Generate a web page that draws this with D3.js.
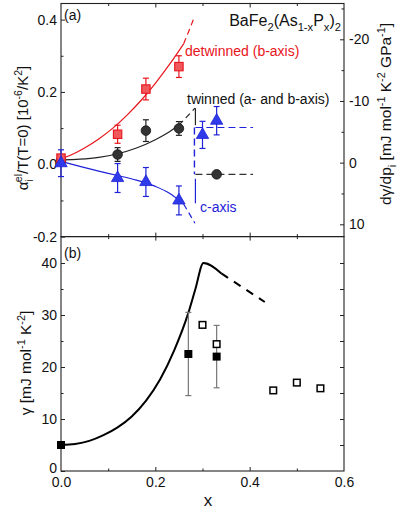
<!DOCTYPE html>
<html><head><meta charset="utf-8">
<script src="https://cdn.jsdelivr.net/npm/d3@7"></script>
<style>
html,body{margin:0;padding:0;background:#fff;}
svg text{font-family:"Liberation Sans",Arial,Helvetica,sans-serif;}
</style>
</head><body>
<svg id="chart" width="409" height="512"></svg>
<script>
// ---------- DATA ----------
// panel (a): alpha_i^el/T  (left axis)
const detX = [0, 0.12, 0.18, 0.25];
const detY = [0.017, 0.083, 0.208, 0.27];
const detErr = [0.006, 0.025, 0.03, 0.03];
const twX = [0, 0.12, 0.18, 0.25];
const twY = [0.01, 0.027, 0.093, 0.099];
const twErr = [0.0, 0.019, 0.03, 0.019];
const cX = [0, 0.12, 0.18, 0.25];
const cY = [0.003, -0.038, -0.049, -0.1];
const cErr = [0.037, 0.04, 0.04, 0.04];
// guide curves (a)
const detCurveX = [0, 0.02, 0.05, 0.08, 0.11, 0.14, 0.17, 0.2, 0.23, 0.26];
const detCurveY = [0.015, 0.025, 0.045, 0.07, 0.1, 0.136, 0.177, 0.224, 0.276, 0.333];
const detDashX = [0.26, 0.271, 0.282];
const detDashY = [0.333, 0.368, 0.405];
const twCurveX = [0, 0.04, 0.08, 0.12, 0.16, 0.2, 0.23, 0.25];
const twCurveY = [0.012, 0.014, 0.019, 0.029, 0.045, 0.068, 0.09, 0.108];
const twDashX = [0.25, 0.284];
const twDashY = [0.108, 0.155];
const cCurveX = [0, 0.04, 0.08, 0.12, 0.16, 0.2, 0.23, 0.26];
const cCurveY = [0.008, -0.006, -0.019, -0.031, -0.044, -0.061, -0.08, -0.11];
const cDashX = [0.26, 0.284];
const cDashY = [-0.11, -0.163];
// phase boundary marks (a)
const boundX = 0.285;
const boundBlackY = [0.155, 0.108];     // left axis units
const boundBlueSolidY = [-0.04, -0.108]; // left axis units
// panel (a) right axis: dgamma/dp_i
const cRX = [0.30, 0.33];
const cRY = [-4.5, -6.8];
const cRErr = [2.2, 2.3];
const twRX = [0.33];
const twRY = [1.9];
const levelX = [0.285, 0.407];
const cLevel = -5.7;
const twLevel = 1.9;
// panel (b): gamma
const gFillX = [0, 0.27, 0.33];
const gFillY = [5, 22.5, 22.0];
const gErrLo = [null, 14.5, 16.0];
const gErrHi = [null, 30.5, 28.0];
const gOpenX = [0.30, 0.33, 0.45, 0.50, 0.55];
const gOpenY = [28.1, 24.4, 15.5, 17.0, 15.9];
const gCurveX = [0, 0.03, 0.06, 0.09, 0.12, 0.15, 0.18, 0.21, 0.24, 0.27, 0.285, 0.302, 0.34];
const gCurveY = [5, 5.2, 5.8, 6.9, 8.4, 10.5, 13.5, 17.6, 23.2, 30.4, 35, 40, 38];
const gDashX = [0.34, 0.432];
const gDashY = [38, 32.5];
// ticks
const xMajor = [0, 0.2, 0.4, 0.6];
const xMinor = [0.1, 0.3, 0.5];
const aMajor = [-0.2, 0.0, 0.2, 0.4];
const aMinor = [-0.1, 0.1, 0.3];
const rMajor = [-20, -10, 0, 10];
const rMinor = [-25, -15, -5, 5];
const bMajor = [0, 10, 20, 30, 40];
const bMinor = [5, 15, 25, 35];
const bRight = [5, 10, 15, 20, 25, 30, 35, 40];

// ---------- LAYOUT ----------
const RED = "#e8141c", RED_FILL = "#f0585c";
const BLUE = "#1f22d8", BLUE_FILL = "#2f3bea";
const DARK = "#222";
const FONT = "Liberation Sans, Arial, Helvetica, sans-serif";
const L = 61, R = 344, TOP = 3.5, MID = 236.6, BOT = 471;

const svg = d3.select("#chart");
const x = d3.scaleLinear().domain([0, 0.6]).range([L, R]);
const yA = d3.scaleLinear().domain([-0.2, 0.4]).range([MID, 19.6]);
const yR = d3.scaleLinear().domain([10, -20]).range([224.3, 39.3]);
const yB = d3.scaleLinear().domain([0, 40]).range([BOT, 263]);

const fmt1 = v => d3.format(".1f")(v).replace("−", "-");

function axisG(){ return svg.append("g"); }
function styleAxis(g){
  g.attr("font-size", 14).attr("font-family", FONT);
  g.select(".domain").remove();
  g.selectAll("line").attr("stroke", DARK).attr("stroke-width", 1);
  g.selectAll("text").attr("fill", "#111");
}

// panel a left
axisG().attr("transform", `translate(${L},0)`).call(d3.axisLeft(yA).tickValues(aMajor).tickSizeInner(-4).tickSizeOuter(0).tickPadding(4).tickFormat(fmt1)).call(styleAxis);
axisG().attr("transform", `translate(${L},0)`).call(d3.axisLeft(yA).tickValues(aMinor).tickSizeInner(-2.5).tickSizeOuter(0).tickFormat("")).call(styleAxis);
// panel a right
axisG().attr("transform", `translate(${R},0)`).call(d3.axisRight(yR).tickValues(rMajor).tickSizeInner(-4).tickSizeOuter(0).tickPadding(5).tickFormat(d => String(d))).call(styleAxis);
axisG().attr("transform", `translate(${R},0)`).call(d3.axisRight(yR).tickValues(rMinor).tickSizeInner(-2.5).tickSizeOuter(0).tickFormat("")).call(styleAxis);
// x ticks (inward) on every horizontal frame edge
[[TOP, d3.axisTop],[MID, d3.axisBottom],[MID, d3.axisTop],[BOT, d3.axisBottom]].forEach(([yy, ax]) => {
  axisG().attr("transform", `translate(0,${yy})`).call(ax(x).tickValues(xMajor.slice(1,3)).tickSizeInner(-4).tickSizeOuter(0).tickFormat("")).call(styleAxis);
  axisG().attr("transform", `translate(0,${yy})`).call(ax(x).tickValues(xMinor).tickSizeInner(-2.5).tickSizeOuter(0).tickFormat("")).call(styleAxis);
});
// bottom x labels
axisG().attr("transform", `translate(0,${BOT})`).call(d3.axisBottom(x).tickValues(xMajor).tickSize(0).tickPadding(6).tickFormat(fmt1)).call(styleAxis);
// panel b left
axisG().attr("transform", `translate(${L},0)`).call(d3.axisLeft(yB).tickValues(bMajor).tickSizeInner(-4).tickSizeOuter(0).tickPadding(4).tickFormat(d => String(d))).call(styleAxis)
  .selectAll(".tick").filter(d => d === 0).select("text").attr("dy", "0.1em");
axisG().attr("transform", `translate(${L},0)`).call(d3.axisLeft(yB).tickValues(bMinor).tickSizeInner(-2.5).tickSizeOuter(0).tickFormat("")).call(styleAxis);
// panel b right
axisG().attr("transform", `translate(${R},0)`).call(d3.axisRight(yB).tickValues(bRight).tickSizeInner(-4).tickSizeOuter(0).tickFormat("")).call(styleAxis);

// frames
svg.append("rect").attr("x", L).attr("y", TOP).attr("width", R - L).attr("height", MID - TOP).attr("fill", "none").attr("stroke", DARK).attr("stroke-width", 1.1);
svg.append("rect").attr("x", L).attr("y", MID).attr("width", R - L).attr("height", BOT - MID).attr("fill", "none").attr("stroke", DARK).attr("stroke-width", 1.1);

const gA = svg.append("g");
function pts(xs, ys){ return xs.map((v,i) => [v, ys[i]]); }
function curve(g, xs, ys, yS, color, w, dash){
  g.append("path").datum(pts(xs, ys))
    .attr("d", d3.line().x(d => x(d[0])).y(d => yS(d[1])).curve(d3.curveMonotoneX))
    .attr("fill", "none").attr("stroke", color).attr("stroke-width", w)
    .attr("stroke-dasharray", dash || null);
}
function errBars(g, xs, ys, errs, yS, color, cap){
  xs.forEach((xv, i) => {
    if (!errs[i]) return;
    const y1 = yS(ys[i] - errs[i]), y2 = yS(ys[i] + errs[i]), cx = x(xv);
    g.append("line").attr("x1", cx).attr("x2", cx).attr("y1", y1).attr("y2", y2).attr("stroke", color).attr("stroke-width", 1.2);
    [y1, y2].forEach(yy => g.append("line").attr("x1", cx - cap).attr("x2", cx + cap).attr("y1", yy).attr("y2", yy).attr("stroke", color).attr("stroke-width", 1.2));
  });
}
const tri = d3.symbol().type(d3.symbolTriangle).size(66);

// curves (a)
curve(gA, twCurveX, twCurveY, yA, DARK, 1.2);
curve(gA, twDashX, twDashY, yA, DARK, 1.2, "6,4");
curve(gA, detCurveX, detCurveY, yA, RED, 1.2);
curve(gA, detDashX, detDashY, yA, RED, 1.2, "6,4");
curve(gA, cCurveX, cCurveY, yA, BLUE, 1.2);
curve(gA, cDashX, cDashY, yA, BLUE, 1.2, "6,4");
// boundary lines
gA.append("line").attr("x1", x(boundX)).attr("x2", x(boundX)).attr("y1", yA(boundBlackY[0])).attr("y2", yA(boundBlackY[1])).attr("stroke", DARK).attr("stroke-width", 1.2);
gA.append("line").attr("x1", x(boundX)).attr("x2", x(boundX)).attr("y1", yA(boundBlueSolidY[0])).attr("y2", yA(boundBlueSolidY[1])).attr("stroke", BLUE).attr("stroke-width", 1.2);
gA.append("line").attr("x1", x(boundX) - 1).attr("x2", x(boundX) - 1).attr("y1", yR(cLevel)).attr("y2", yR(twLevel)).attr("stroke", BLUE).attr("stroke-width", 1.4).attr("stroke-dasharray", "7,4");
gA.append("line").attr("x1", x(levelX[0])).attr("x2", x(levelX[1])).attr("y1", yR(cLevel)).attr("y2", yR(cLevel)).attr("stroke", BLUE).attr("stroke-width", 1.2).attr("stroke-dasharray", "7,4");
gA.append("line").attr("x1", x(levelX[0])).attr("x2", x(levelX[1])).attr("y1", yR(twLevel)).attr("y2", yR(twLevel)).attr("stroke", "#333").attr("stroke-width", 1.2).attr("stroke-dasharray", "7,4");

// markers (a)
errBars(gA, twX, twY, twErr, yA, DARK, 3);
gA.selectAll(".tw").data(pts(twX, twY)).join("circle").attr("cx", d => x(d[0])).attr("cy", d => yA(d[1])).attr("r", 4.8).attr("fill", "#333").attr("stroke", "#111").attr("stroke-width", 0.8);
errBars(gA, detX, detY, detErr, yA, RED, 3);
gA.selectAll(".det").data(pts(detX, detY)).join("rect").attr("x", d => x(d[0]) - 4.2).attr("y", d => yA(d[1]) - 4.2).attr("width", 8.4).attr("height", 8.4).attr("fill", RED_FILL).attr("stroke", RED).attr("stroke-width", 1.1);
errBars(gA, cX, cY, cErr, yA, BLUE, 3);
gA.selectAll(".c").data(pts(cX, cY)).join("path").attr("d", tri).attr("transform", d => `translate(${x(d[0])},${yA(d[1])})`).attr("fill", BLUE_FILL).attr("stroke", BLUE).attr("stroke-width", 0.8);
errBars(gA, cRX, cRY, cRErr, yR, BLUE, 3);
gA.selectAll(".cr").data(pts(cRX, cRY)).join("path").attr("d", tri).attr("transform", d => `translate(${x(d[0])},${yR(d[1])})`).attr("fill", BLUE_FILL).attr("stroke", BLUE).attr("stroke-width", 0.8);
gA.selectAll(".twr").data(pts(twRX, twRY)).join("circle").attr("cx", d => x(d[0])).attr("cy", d => yR(d[1])).attr("r", 4.8).attr("fill", "#333").attr("stroke", "#111").attr("stroke-width", 0.8);

// panel (b)
const gB = svg.append("g");
curve(gB, gCurveX, gCurveY, yB, "#000", 2);
curve(gB, gDashX, gDashY, yB, "#000", 2, "8,7");
gFillX.forEach((xv, i) => {
  if (gErrLo[i] == null) return;
  const cx = x(xv), y1 = yB(gErrLo[i]), y2 = yB(gErrHi[i]);
  gB.append("line").attr("x1", cx).attr("x2", cx).attr("y1", y1).attr("y2", y2).attr("stroke", "#777").attr("stroke-width", 1.2);
  [y1, y2].forEach(yy => gB.append("line").attr("x1", cx - 3).attr("x2", cx + 3).attr("y1", yy).attr("y2", yy).attr("stroke", "#777").attr("stroke-width", 1.2));
});
gB.selectAll(".go").data(pts(gOpenX, gOpenY)).join("rect").attr("x", d => x(d[0]) - 3.3).attr("y", d => yB(d[1]) - 3.3).attr("width", 6.6).attr("height", 6.6).attr("fill", "#fff").attr("stroke", "#000").attr("stroke-width", 1.5);
gB.selectAll(".gf").data(pts(gFillX, gFillY)).join("rect").attr("x", d => x(d[0]) - 4).attr("y", d => yB(d[1]) - 4).attr("width", 8).attr("height", 8).attr("fill", "#000");

// ---------- TEXT ----------
function rich(g, parts, size){
  const t = g.append("text").attr("font-size", size).attr("font-family", FONT).attr("fill", g.attr("data-fill") || "#111");
  let cur = 0;
  parts.forEach(p => {
    const off = p.s === "sub" ? size * 0.3 : p.s === "sup" ? -size * 0.42 : 0;
    const ts = t.append("tspan").text(p.t).attr("dy", off - cur);
    if (p.s) ts.attr("font-size", size * 0.7);
    if (p.dx) ts.attr("dx", p.dx);
    cur = off;
  });
  return t;
}
function label(xp, yp, parts, size, color, anchor, rot){
  const g = svg.append("g").attr("transform", `translate(${xp},${yp})` + (rot ? ` rotate(${rot})` : "")).attr("data-fill", color);
  rich(g, parts, size).attr("text-anchor", anchor || "start");
}
label(64, 20, [{t:"(a)"}], 14, "#111");
label(64, 258, [{t:"(b)"}], 14, "#111");
label(341, 26, [{t:"BaFe"},{t:"2",s:"sub"},{t:"(As"},{t:"1-x",s:"sub"},{t:"P"},{t:"x",s:"sub"},{t:")"},{t:"2",s:"sub"}], 16, "#111", "end");
label(185, 56, [{t:"detwinned (b-axis)"}], 14, RED);
label(187, 104, [{t:"twinned (a- and b-axis)"}], 14, "#111");
label(200, 212, [{t:"c-axis"}], 14, BLUE);
label(28, 128, [{t:"α"},{t:"i",s:"sub"},{t:"el",s:"sup",dx:-3},{t:"/T(T=0) [10"},{t:"-6",s:"sup"},{t:"/K"},{t:"2",s:"sup"},{t:"]"}], 15, "#111", "middle", -90);
label(391, 114, [{t:"dγ/dp"},{t:"i",s:"sub"},{t:" [mJ mol"},{t:"-1",s:"sup"},{t:" K"},{t:"-2",s:"sup"},{t:" GPa"},{t:"-1",s:"sup"},{t:"]"}], 15.5, "#111", "middle", -90);
label(31, 363, [{t:"γ [mJ mol"},{t:"-1",s:"sup"},{t:" K"},{t:"-2",s:"sup"},{t:"]"}], 15.5, "#111", "middle", -90);
label(208, 506, [{t:"x"}], 17, "#111", "middle");
</script>
</body></html>
